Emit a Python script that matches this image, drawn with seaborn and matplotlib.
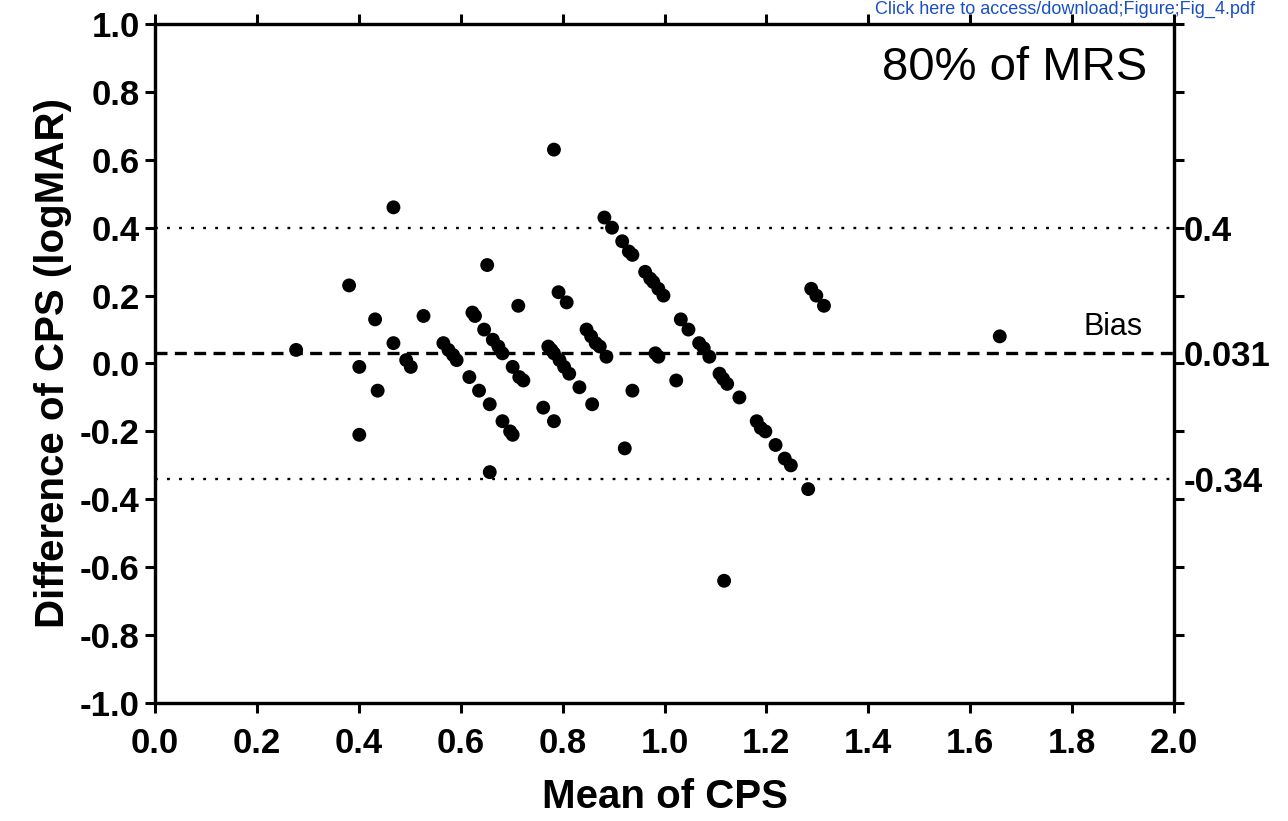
import numpy as np
import pandas as pd
import matplotlib
matplotlib.use("Agg")
import matplotlib.pyplot as plt
import seaborn as sns

# ---- data ----
mean_cps = [0.277, 0.381, 0.401, 0.401, 0.432, 0.437, 0.468, 0.468, 0.493, 0.502,
            0.527, 0.566, 0.576, 0.585, 0.592, 0.617, 0.623, 0.628, 0.636, 0.646,
            0.652, 0.657, 0.657, 0.663, 0.674, 0.682, 0.682, 0.697, 0.702, 0.702,
            0.713, 0.715, 0.723, 0.762, 0.772, 0.778, 0.783, 0.783, 0.783, 0.792,
            0.794, 0.803, 0.808, 0.813, 0.833, 0.847, 0.856, 0.858, 0.865, 0.873,
            0.882, 0.886, 0.897, 0.917, 0.922, 0.930, 0.937, 0.937, 0.962, 0.972,
            0.978, 0.988, 0.982, 0.988, 0.998, 1.023, 1.032, 1.047, 1.068, 1.077,
            1.088, 1.108, 1.115, 1.117, 1.123, 1.147, 1.181, 1.189, 1.198, 1.218,
            1.236, 1.248, 1.282, 1.288, 1.298, 1.313, 1.658]
diff_cps = [0.04, 0.23, -0.01, -0.21, 0.13, -0.08, 0.46, 0.06, 0.01, -0.01,
            0.14, 0.06, 0.04, 0.025, 0.01, -0.04, 0.15, 0.14, -0.08, 0.10,
            0.29, -0.12, -0.32, 0.07, 0.05, 0.03, -0.17, -0.20, -0.21, -0.01,
            0.17, -0.04, -0.05, -0.13, 0.05, 0.04, 0.63, 0.03, -0.17, 0.21,
            0.01, -0.01, 0.18, -0.03, -0.07, 0.10, 0.08, -0.12, 0.06, 0.05,
            0.43, 0.02, 0.40, 0.36, -0.25, 0.33, 0.32, -0.08, 0.27, 0.25,
            0.24, 0.22, 0.03, 0.02, 0.20, -0.05, 0.13, 0.10, 0.06, 0.045,
            0.02, -0.03, -0.045, -0.64, -0.06, -0.10, -0.17, -0.19, -0.20, -0.24,
            -0.28, -0.30, -0.37, 0.22, 0.20, 0.17, 0.08]

bias = 0.031
upper_loa = 0.4
lower_loa = -0.34
right_labels = ["0.4", "0.031", "-0.34"]
x_ticks = [0.0, 0.2, 0.4, 0.6, 0.8, 1.0, 1.2, 1.4, 1.6, 1.8, 2.0]
y_ticks = [-1.0, -0.8, -0.6, -0.4, -0.2, 0.0, 0.2, 0.4, 0.6, 0.8, 1.0]

df = pd.DataFrame({"Mean of CPS": mean_cps, "Difference of CPS": diff_cps})

sns.set_theme(style="ticks")
plt.rcParams["font.family"] = ["Liberation Sans", "DejaVu Sans"]
plt.rcParams["text.color"] = "black"
plt.rcParams["axes.labelcolor"] = "black"

fig = plt.figure(figsize=(12.88, 8.21), dpi=100)
ax = fig.add_axes([155 / 1288, 1 - 703 / 821, (1174 - 155) / 1288, (703 - 24) / 821])

sns.scatterplot(data=df, x="Mean of CPS", y="Difference of CPS", ax=ax,
                color="black", s=100, edgecolor="none", zorder=3)

ax.axhline(upper_loa, color="black", lw=1.7, linestyle=(0, (1.2, 3.9)), zorder=2)
ax.axhline(lower_loa, color="black", lw=1.7, linestyle=(0, (1.2, 3.9)), zorder=2)
ax.axhline(bias, color="black", lw=2.4, linestyle=(0, (3.6, 2.2)), zorder=2)

ax.set_xlim(0, 2.0)
ax.set_ylim(-1.0, 1.0)
ax.set_xticks(x_ticks)
ax.set_yticks(y_ticks)
ax.set_xticklabels([f"{v:.1f}" for v in x_ticks])
ax.set_yticklabels([f"{v:.1f}" for v in y_ticks])

for sp in ax.spines.values():
    sp.set_visible(True)
    sp.set_linewidth(2.3)
    sp.set_color("black")

ax.tick_params(axis="both", which="major", direction="out", length=7, width=2.2,
               labelsize=25, color="black", labelcolor="black")
ax.tick_params(axis="x", top=True, labeltop=False, pad=10)
ax.tick_params(axis="y", pad=4)
for lab in ax.get_xticklabels() + ax.get_yticklabels():
    lab.set_fontweight("bold")

ax.set_xlabel("Mean of CPS", fontsize=29, fontweight="bold", labelpad=13, color="black")
ax.set_ylabel("Difference of CPS (logMAR)", fontsize=29, fontweight="bold", labelpad=6,
              color="black")

# right axis with limits of agreement labels
ax2 = ax.twinx()
ax2.set_ylim(-1.0, 1.0)
ax2.yaxis.remove_overlapping_locs = False
ax2.set_yticks(y_ticks)
ax2.set_yticklabels([""] * len(y_ticks))
ax2.set_yticks([upper_loa, bias, lower_loa], minor=True)
ax2.set_yticklabels(right_labels, minor=True)
ax2.tick_params(axis="y", which="major", direction="out", length=7, width=2.2, color="black")
ax2.tick_params(axis="y", which="minor", length=0, pad=7, labelsize=25, labelcolor="black")
for lab in ax2.get_yticklabels(minor=True):
    lab.set_fontweight("bold")
for sp in ax2.spines.values():
    sp.set_linewidth(2.3)
    sp.set_color("black")

ax.text((1147 - 155) / 1019, 0.935, "80% of MRS", transform=ax.transAxes, ha="right",
        va="center", fontsize=34, color="black")
ax.text((1143 - 155) / 1019, bias + 0.052, "Bias", transform=ax.get_yaxis_transform(),
        ha="right", va="baseline", fontsize=22, color="black")

fig.text(1255 / 1288, 1 - 1 / 821, "Click here to access/download;Figure;Fig_4.pdf",
         ha="right", va="top", fontsize=13, color="#1a4fc4")

fig.savefig("out.png", dpi=100)
